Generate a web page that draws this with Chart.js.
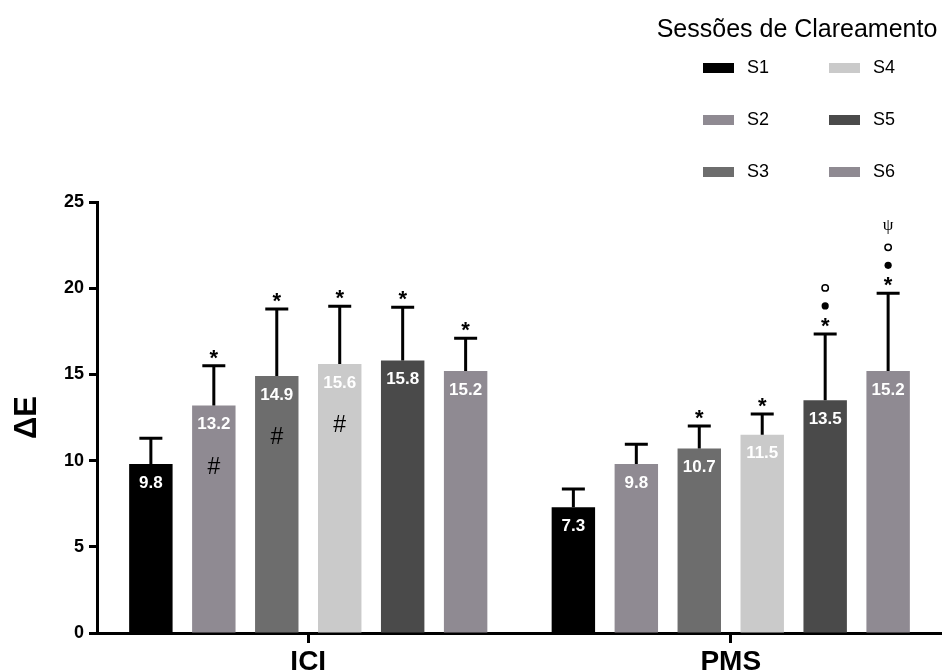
<!DOCTYPE html>
<html><head><meta charset="utf-8">
<script src="https://cdn.jsdelivr.net/npm/chart.js@4.4.0/dist/chart.umd.min.js"></script>
<style>html,body{margin:0;padding:0;background:#fff}#wrap{width:942px;height:671px}</style>
</head><body><div id="wrap"><canvas id="c" width="942" height="671"></canvas></div>
<script>
const categories = ['ICI', 'PMS'];
const sessions = ['S1', 'S2', 'S3', 'S4', 'S5', 'S6'];
const sessionColors = ['#000000', '#8f8a92', '#6d6d6d', '#cacaca', '#4a4a4a', '#8f8a92'];
const meansICI = [9.8, 13.2, 14.9, 15.6, 15.8, 15.2];
const meansPMS = [7.3, 9.8, 10.7, 11.5, 13.5, 15.2];
const sdICI = [1.5, 2.3, 3.9, 3.35, 3.1, 1.9];
const sdPMS = [1.05, 1.15, 1.3, 1.2, 3.85, 4.5];
const marksICI = [[], ['*'], ['*'], ['*'], ['*'], ['*']];
const marksPMS = [[], [], ['*'], ['*'], ['*', '●', '○'], ['*', '●', '○', 'ψ']];
const innerICI = ['', '#', '#', '#', '', ''];
const innerPMS = ['', '', '', '', '', ''];
const yTicks = [0, 5, 10, 15, 20, 25];
const legendTitle = 'Sessões de Clareamento';
const yTitle = 'ΔE';

const FONT = '"Liberation Sans", Arial, Helvetica, sans-serif';

const datasets = sessions.map((s, i) => ({
  label: s,
  data: [meansICI[i], meansPMS[i]],
  sd: [sdICI[i], sdPMS[i]],
  marks: [marksICI[i], marksPMS[i]],
  inner: [innerICI[i], innerPMS[i]],
  backgroundColor: sessionColors[i],
  borderWidth: 0,
  categoryPercentage: 0.894,
  barPercentage: 0.69
}));

const annotate = {
  id: 'annotate',
  afterDatasetsDraw(chart) {
    const ctx = chart.ctx;
    const ys = chart.scales.y;
    ctx.save();
    chart.data.datasets.forEach((ds, di) => {
      const meta = chart.getDatasetMeta(di);
      meta.data.forEach((bar, j) => {
        const v = ds.data[j];
        const top = bar.y;
        const capY = ys.getPixelForValue(v + ds.sd[j]);
        ctx.strokeStyle = '#000';
        ctx.lineWidth = 3;
        ctx.lineCap = 'butt';
        ctx.beginPath();
        ctx.moveTo(bar.x, top);
        ctx.lineTo(bar.x, capY);
        ctx.moveTo(bar.x - 11.5, capY);
        ctx.lineTo(bar.x + 11.5, capY);
        ctx.stroke();
        ctx.fillStyle = '#fff';
        ctx.font = 'bold 17px ' + FONT;
        ctx.textAlign = 'center';
        ctx.textBaseline = 'middle';
        ctx.fillText(v.toFixed(1), bar.x, top + 19);
        if (ds.inner[j]) {
          ctx.fillStyle = '#000';
          ctx.font = '23px ' + FONT;
          ctx.fillText(ds.inner[j], bar.x, top + 62);
        }
        let cy = capY - 13;
        ds.marks[j].forEach(m => {
          ctx.fillStyle = '#000';
          ctx.strokeStyle = '#000';
          if (m === '*') {
            ctx.font = 'bold 22px ' + FONT;
            ctx.textBaseline = 'alphabetic';
            ctx.fillText('*', bar.x, cy + 12);
          } else if (m === '●') {
            ctx.beginPath();
            ctx.arc(bar.x, cy, 3.6, 0, Math.PI * 2);
            ctx.fill();
          } else if (m === '○') {
            ctx.lineWidth = 1.5;
            ctx.beginPath();
            ctx.arc(bar.x, cy, 3.2, 0, Math.PI * 2);
            ctx.stroke();
          } else {
            ctx.font = '17px "Liberation Serif", "DejaVu Serif", serif';
            ctx.textBaseline = 'middle';
            ctx.fillText(m, bar.x, cy - 2);
          }
          cy -= m === '*' ? 15 : (m === '●' ? 18 : 20);
        });
      });
    });
    ctx.fillStyle = '#000';
    ctx.textAlign = 'center';
    ctx.textBaseline = 'middle';
    ctx.font = '25px ' + FONT;
    ctx.fillText(legendTitle, 797, 30);
    ctx.font = '18px ' + FONT;
    ctx.textAlign = 'left';
    chart.data.datasets.forEach((ds, i) => {
      const col = Math.floor(i / 3), row = i % 3;
      const sx = 703 + col * 126, sy = 68 + row * 52;
      ctx.fillStyle = ds.backgroundColor;
      ctx.fillRect(sx, sy - 5, 31, 10);
      ctx.fillStyle = '#000';
      ctx.fillText(ds.label, sx + 44, sy);
    });
    ctx.restore();
  }
};

new Chart(document.getElementById('c'), {
  type: 'bar',
  data: { labels: categories, datasets },
  options: {
    responsive: false,
    animation: false,
    devicePixelRatio: 1,
    layout: { padding: { top: 202, left: 0, right: 0, bottom: 0 } },
    plugins: { legend: { display: false }, tooltip: { enabled: false } },
    scales: {
      x: {
        grid: { display: true, drawOnChartArea: false, drawTicks: true, tickLength: 10, tickWidth: 3, tickColor: '#000', offset: false },
        border: { display: true, width: 3, color: '#000' },
        ticks: { font: { family: FONT, size: 28, weight: 'bold' }, color: '#000', padding: 2 },
        afterFit(s) { s.height = 38; }
      },
      y: {
        min: 0, max: 25,
        afterBuildTicks(s) { s.ticks = yTicks.map(v => ({ value: v })); },
        grid: { display: true, drawOnChartArea: false, drawTicks: true, tickLength: 8, tickWidth: 3, tickColor: '#000' },
        border: { display: true, width: 3, color: '#000' },
        ticks: { font: { family: FONT, size: 18, weight: 'bold' }, color: '#000', padding: 5 },
        title: { display: true, text: yTitle, color: '#000', font: { family: FONT, size: 31, weight: 'bold' }, padding: { top: 9, bottom: 0 } },
        afterFit(s) { s.width = 97; }
      }
    }
  },
  plugins: [annotate]
});
</script>
</body></html>
